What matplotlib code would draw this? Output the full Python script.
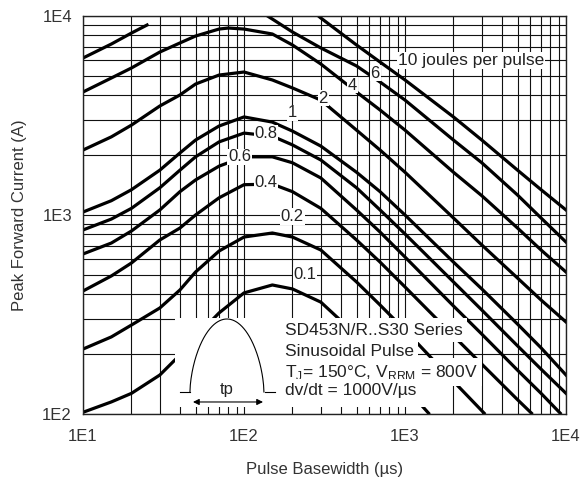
import matplotlib
matplotlib.use('Agg')
import matplotlib.pyplot as plt
import numpy as np
from matplotlib.ticker import FixedLocator, NullFormatter, LogLocator
from matplotlib.patches import Rectangle

plt.rcParams['font.family'] = ['Liberation Sans', 'DejaVu Sans']

# pulse basewidth (us) and peak forward current (A), one curve per energy
x_common = [10, 15, 20, 30, 40, 50, 70, 100, 150, 200, 300, 500, 700, 1000, 2000, 3000, 5000, 7000, 10000]

j10_x = [290, 300, 500, 700, 1000, 2000, 3000, 5000, 7000, 10000]
j10_y = [10000, 9770, 7150, 5870, 4770, 3110, 2380, 1680, 1340, 1060]

j6a_x = [10, 15, 20, 25]
j6a_y = [6150, 7230, 8210, 9010]
j6b_x = [140, 150, 200, 300, 500, 700, 1000, 2000, 3000, 5000, 7000, 10000]
j6b_y = [10000, 9650, 8310, 6910, 5610, 4660, 3780, 2380, 1830, 1260, 966, 731]

j4_x = [10, 15, 20, 30, 40, 50, 70, 80, 100, 150, 200, 300, 500, 700, 1000, 2000, 3000, 5000, 7000, 10000]
j4_y = [4150, 4880, 5480, 6590, 7320, 7930, 8600, 8700, 8600, 8120, 7150, 5740, 4150, 3370, 2670, 1640, 1250, 860, 667, 517]

j2_y = [2120, 2470, 2830, 3530, 4010, 4550, 5050, 5230, 4770, 4350, 3780, 2670, 2120, 1640, 966, 707, 482, 374, 290]
j1_y = [1035, 1180, 1340, 1680, 2050, 2380, 2800, 3110, 2930, 2640, 2220, 1640, 1310, 1000, 580, 425, 283, 215, 157]
j08_y = [841, 954, 1080, 1370, 1680, 1960, 2330, 2580, 2490, 2250, 1890, 1370, 1060, 803, 461, 333, 220, 168, 127]

j06_x = [10, 15, 20, 30, 40, 50, 70, 100, 150, 200, 300, 500, 700, 1000, 2000, 3000, 5000, 7000, 9200]
j06_y = [637, 723, 831, 1060, 1310, 1500, 1760, 1960, 1960, 1830, 1535, 1060, 821, 615, 349, 252, 166, 127, 101]

j04_x = [10, 15, 20, 30, 40, 50, 70, 100, 150, 200, 300, 500, 700, 1000, 2000, 3000, 5000, 6100]
j04_y = [415, 494, 574, 749, 860, 1000, 1220, 1420, 1430, 1310, 1080, 749, 580, 435, 247, 178, 118, 101]

j02_x = [10, 15, 20, 30, 40, 50, 70, 100, 150, 200, 300, 500, 700, 1000, 2000, 3100]
j02_y = [212, 244, 280, 341, 420, 517, 659, 775, 812, 775, 667, 461, 353, 264, 146, 101]

j01_x = [10, 15, 20, 30, 40, 50, 70, 100, 150, 200, 300, 500, 700, 1000, 1400]
j01_y = [102, 115, 127, 157, 198, 244, 322, 406, 445, 425, 365, 249, 187, 137, 101]

curves = [(j10_x, j10_y), (j6a_x, j6a_y), (j6b_x, j6b_y), (j4_x, j4_y),
          (x_common, j2_y), (x_common, j1_y), (x_common, j08_y),
          (j06_x, j06_y), (j04_x, j04_y), (j02_x, j02_y), (j01_x, j01_y)]

# curve labels: text, x, y
curve_labels = [("6", 652, 5170), ("4", 469, 4500), ("2", 310, 3870), ("1", 199, 3260),
                ("0.8", 137, 2580), ("0.6", 94, 1960), ("0.4", 137, 1450),
                ("0.2", 199, 980), ("0.1", 239, 500)]

x_ticks = [10, 100, 1000, 10000]
x_ticklabels = ["1E1", "1E2", "1E3", "1E4"]
y_ticks = [100, 1000, 10000]
y_ticklabels = ["1E2", "1E3", "1E4"]

info_lines = ["SD453N/R..S30 Series", "Sinusoidal Pulse",
              r"T$_\mathregular{J}$= 150°C, V$_\mathregular{RRM}$ = 800V",
              "dv/dt = 1000V/µs"]

fig = plt.figure(figsize=(5.84, 4.83), dpi=100)
ax = fig.add_axes([83/584, 1-414/483, 483/584, 398/483])
ax.set_xscale('log')
ax.set_yscale('log')
ax.set_xlim(10, 10000)
ax.set_ylim(100, 10000)

for cx, cy in curves:
    ax.plot(cx, cy, color='black', lw=2.3, zorder=2, solid_joinstyle='round')

ax.xaxis.set_major_locator(FixedLocator(x_ticks))
ax.set_xticklabels(x_ticklabels)
ax.yaxis.set_major_locator(FixedLocator(y_ticks))
ax.set_yticklabels(y_ticklabels)
for a in (ax.xaxis, ax.yaxis):
    a.set_minor_locator(LogLocator(base=10, subs=np.arange(2, 10)))
    a.set_minor_formatter(NullFormatter())
ax.grid(which='both', color='#111111', lw=0.8, zorder=1)
ax.tick_params(which='both', length=0, labelsize=12, colors='#333333')
ax.tick_params(axis='x', pad=11)
ax.tick_params(axis='y', pad=8)
for s in ax.spines.values():
    s.set_color('#222222')
    s.set_linewidth(1)

ax.set_xlabel("Pulse Basewidth (µs)", fontsize=12, color='#333333', labelpad=13)
ax.set_ylabel("Peak Forward Current (A)", fontsize=12, color='#333333', labelpad=11)

for txt, lx, ly in curve_labels:
    ax.text(lx, ly, txt, fontsize=12, ha='center', va='center', zorder=4, color='#222222',
            bbox=dict(facecolor='white', edgecolor='none', pad=0.6))
ax.text(906, 6000, "10 joules per pulse", fontsize=12.5, ha='left', va='center', zorder=4,
        color='#222222', bbox=dict(facecolor='white', edgecolor='none', pad=0.6))

# inset with pulse sketch
ax.add_patch(Rectangle((0.1905, 0.0176), 0.2275, 0.2236, transform=ax.transAxes,
                       facecolor='white', edgecolor='none', zorder=3))
ax.add_patch(Rectangle((0.418, 0.0176), 0.34, 0.03, transform=ax.transAxes,
                       facecolor='white', edgecolor='none', zorder=3))
u = np.linspace(-1, 1, 200)
ax.plot(0.298 + 0.0766*u, 0.0553 + 0.1834*(1 - u**2)**0.6, transform=ax.transAxes,
        color='black', lw=0.8, zorder=4)
ax.plot([0.2008, 0.2215], [0.0553, 0.0553], transform=ax.transAxes, color='black', lw=0.8, zorder=4)
ax.plot([0.3768, 0.3975], [0.0553, 0.0553], transform=ax.transAxes, color='black', lw=0.8, zorder=4)
ax.annotate('', xy=(0.3727, 0.0302), xytext=(0.2277, 0.0302), xycoords='axes fraction',
            arrowprops=dict(arrowstyle='<|-|>', color='black', lw=0.8, mutation_scale=9,
                            shrinkA=0, shrinkB=0), zorder=4)
ax.text(0.298, 0.062, "tp", transform=ax.transAxes, fontsize=12, ha='center', va='center',
        zorder=4, color='#222222')

info_y = [0.211, 0.158, 0.105, 0.058]
for line, ty in zip(info_lines, info_y):
    ax.text(0.418, ty, line, transform=ax.transAxes, fontsize=12.5, ha='left', va='center',
            zorder=4, color='#222222', bbox=dict(facecolor='white', edgecolor='none', pad=3.2))

fig.savefig('out.png', dpi=100)
